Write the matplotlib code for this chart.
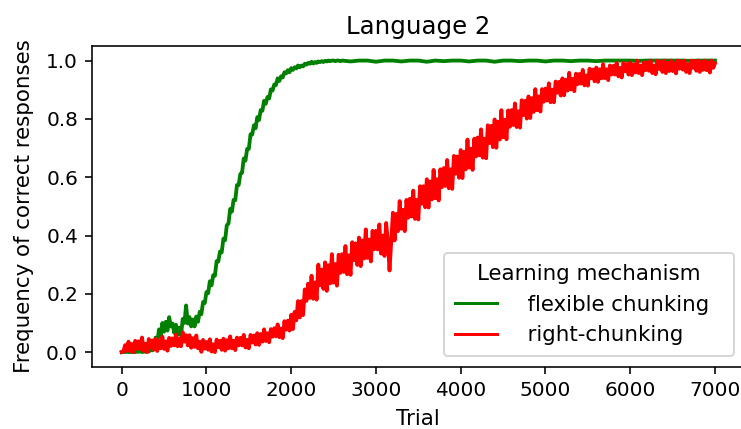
import numpy as np
import matplotlib
matplotlib.use("Agg")
import matplotlib.pyplot as plt

# Learning curves for Language 2: frequency of correct responses per trial.
# Right-chunking curve, sampled every 20 trials (0 ... 7000).
right_trials = np.arange(0, 7001, 20)
right_chunking = [
    0.000, 0.002, 0.024, 0.005, 0.036, 0.003, 0.028, 0.000, 0.039, 0.012,
    0.037, 0.010, 0.050, 0.004, 0.029, 0.000, 0.045, 0.017, 0.040, 0.008,
    0.045, 0.004, 0.040, 0.013, 0.053, 0.011, 0.037, 0.005, 0.049, 0.021,
    0.047, 0.023, 0.061, 0.020, 0.047, 0.020, 0.068, 0.036, 0.058, 0.023,
    0.058, 0.015, 0.048, 0.018, 0.057, 0.013, 0.036, 0.001, 0.042, 0.012,
    0.035, 0.008, 0.044, 0.002, 0.027, 0.000, 0.043, 0.017, 0.039, 0.008,
    0.046, 0.005, 0.041, 0.013, 0.054, 0.013, 0.039, 0.007, 0.050, 0.023,
    0.049, 0.023, 0.059, 0.016, 0.042, 0.013, 0.059, 0.033, 0.057, 0.026,
    0.065, 0.025, 0.062, 0.036, 0.078, 0.038, 0.065, 0.034, 0.079, 0.053,
    0.082, 0.054, 0.095, 0.051, 0.081, 0.048, 0.106, 0.077, 0.108, 0.074,
    0.128, 0.079, 0.138, 0.109, 0.175, 0.119, 0.175, 0.127, 0.215, 0.176,
    0.235, 0.186, 0.262, 0.183, 0.239, 0.180, 0.300, 0.229, 0.283, 0.217,
    0.308, 0.210, 0.298, 0.236, 0.336, 0.238, 0.302, 0.228, 0.334, 0.272,
    0.336, 0.275, 0.364, 0.267, 0.332, 0.265, 0.377, 0.315, 0.373, 0.299,
    0.393, 0.295, 0.383, 0.321, 0.421, 0.323, 0.386, 0.311, 0.416, 0.353,
    0.416, 0.352, 0.438, 0.338, 0.400, 0.330, 0.443, 0.382, 0.280, 0.378,
    0.478, 0.383, 0.474, 0.415, 0.518, 0.423, 0.488, 0.415, 0.522, 0.461,
    0.526, 0.465, 0.554, 0.457, 0.522, 0.455, 0.569, 0.509, 0.569, 0.497,
    0.593, 0.496, 0.585, 0.524, 0.625, 0.528, 0.593, 0.520, 0.627, 0.566,
    0.631, 0.570, 0.659, 0.562, 0.627, 0.560, 0.673, 0.612, 0.671, 0.598,
    0.693, 0.597, 0.687, 0.627, 0.729, 0.633, 0.698, 0.625, 0.732, 0.671,
    0.736, 0.675, 0.764, 0.667, 0.732, 0.665, 0.778, 0.717, 0.776, 0.703,
    0.798, 0.701, 0.790, 0.729, 0.830, 0.737, 0.797, 0.730, 0.829, 0.773,
    0.830, 0.779, 0.853, 0.772, 0.826, 0.770, 0.864, 0.813, 0.862, 0.801,
    0.877, 0.803, 0.871, 0.824, 0.902, 0.830, 0.877, 0.825, 0.902, 0.859,
    0.904, 0.863, 0.922, 0.857, 0.900, 0.857, 0.928, 0.890, 0.927, 0.880,
    0.939, 0.881, 0.934, 0.897, 0.958, 0.901, 0.937, 0.895, 0.955, 0.919,
    0.954, 0.921, 0.968, 0.915, 0.949, 0.914, 0.972, 0.939, 0.969, 0.929,
    0.976, 0.927, 0.970, 0.939, 0.988, 0.940, 0.970, 0.933, 0.983, 0.952,
    0.982, 0.952, 0.992, 0.946, 0.975, 0.942, 0.992, 0.963, 0.988, 0.952,
    0.994, 0.950, 0.987, 0.959, 1.000, 0.957, 0.983, 0.950, 0.994, 0.967,
    0.994, 0.965, 1.000, 0.957, 0.983, 0.953, 1.000, 0.971, 0.995, 0.961,
    1.000, 0.957, 0.993, 0.964, 1.000, 0.964, 0.990, 0.956, 1.000, 0.972,
    0.998, 0.969, 1.000, 0.961, 0.987, 0.957, 1.000, 0.975, 0.999, 0.965,
    1.000, 0.961, 0.997, 0.968, 1.000, 0.967, 0.993, 0.959, 1.000, 0.975,
    0.990,
]

# Flexible-chunking curve: every 20 trials while learning (0 ... 2580),
# then every 100 trials once it has saturated (2600 ... 7000).
flex_trials = np.concatenate([np.arange(0, 2600, 20), np.arange(2600, 7001, 100)])
flexible_chunking = [
    0.000, 0.001, 0.000, 0.002, 0.000, 0.001, 0.000, 0.002, 0.000, 0.003,
    0.001, 0.004, 0.000, 0.003, 0.001, 0.004, 0.002, 0.008, 0.006, 0.020,
    0.050, 0.030, 0.078, 0.055, 0.100, 0.070, 0.104, 0.074, 0.120, 0.088,
    0.098, 0.066, 0.094, 0.060, 0.084, 0.058, 0.114, 0.100, 0.160, 0.098,
    0.120, 0.088, 0.112, 0.088, 0.122, 0.104, 0.138, 0.130, 0.172, 0.168,
    0.206, 0.202, 0.243, 0.229, 0.264, 0.262, 0.312, 0.311, 0.345, 0.342,
    0.389, 0.384, 0.435, 0.441, 0.491, 0.482, 0.522, 0.521, 0.573, 0.573,
    0.611, 0.615, 0.664, 0.657, 0.697, 0.697, 0.747, 0.746, 0.778, 0.768,
    0.806, 0.796, 0.830, 0.828, 0.862, 0.852, 0.875, 0.870, 0.901, 0.897,
    0.918, 0.916, 0.939, 0.930, 0.946, 0.942, 0.960, 0.956, 0.967, 0.960,
    0.974, 0.968, 0.977, 0.973, 0.983, 0.977, 0.983, 0.980, 0.989, 0.986,
    0.992, 0.989, 0.996, 0.990, 0.995, 0.992, 0.997, 0.995, 0.998, 0.995,
    0.999, 0.997, 1.000, 0.998, 1.000, 1.000, 0.998, 1.000, 1.000, 0.998,
    1.000, 0.997, 1.000, 1.000, 0.996, 1.000, 1.000, 0.997, 1.000, 1.000,
    0.996, 1.000, 0.998, 1.000, 1.000, 0.997, 1.000, 1.000, 0.996, 1.000,
    1.000, 0.998, 1.000, 1.000, 0.997, 1.000, 1.000, 0.998, 1.000, 1.000,
    0.998, 1.000, 1.000, 1.000, 1.000, 0.999, 1.000, 1.000, 1.000, 1.000,
    1.000, 0.999, 1.000, 1.000, 1.000,
]

series_labels = ["  flexible chunking  ", "  right-chunking  "]
series_colors = ["green", "red"]
x_ticks = [0, 1000, 2000, 3000, 4000, 5000, 6000, 7000]
y_ticks = [0.0, 0.2, 0.4, 0.6, 0.8, 1.0]

plt.rcParams["path.simplify"] = False

DPI = 144
LABEL_SIZE = 10.7
fig = plt.figure(figsize=(741 / DPI, 429 / DPI), dpi=DPI)
ax = fig.add_axes([0.1242, 0.1452, 0.8807, 0.7476])

ax.plot(flex_trials, flexible_chunking, color=series_colors[0],
        label=series_labels[0], linewidth=1.9)
ax.plot(right_trials, right_chunking, color=series_colors[1],
        label=series_labels[1], linewidth=1.9)

ax.set_xticks(x_ticks)
ax.set_yticks(y_ticks)
ax.set_xlabel("Trial", fontsize=LABEL_SIZE, labelpad=4.5)
ax.set_ylabel("Frequency of correct responses", fontsize=LABEL_SIZE, labelpad=6)
ax.set_title("Language 2", fontsize=12.2)
leg = ax.legend(title="Learning mechanism", loc="lower right",
                fontsize=LABEL_SIZE, title_fontsize=LABEL_SIZE,
                borderpad=0.5)
# Keep the legend keys at the standard line weight.
for handle in leg.get_lines():
    handle.set_linewidth(1.5)

fig.savefig("out.png", dpi=DPI)
